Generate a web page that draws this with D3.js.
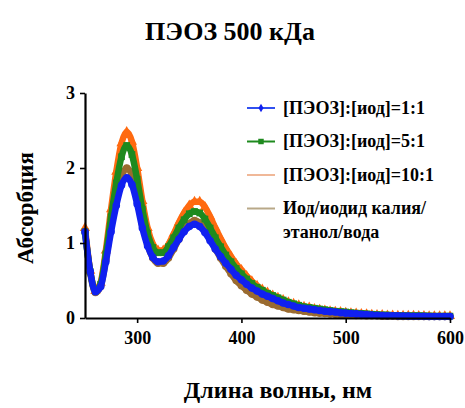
<!DOCTYPE html>
<html><head><meta charset="utf-8">
<script src="https://cdn.jsdelivr.net/npm/d3@7"></script>
<style>body{margin:0;background:#fff}svg{display:block}</style>
</head><body><svg id="c" width="465" height="408"></svg>
<script>
const wavelengths = d3.range(250, 601, 5);
const seriesNames = ["[ПЭОЗ]:[иод]=1:1","[ПЭОЗ]:[иод]=5:1","[ПЭОЗ]:[иод]=10:1","Иод/иодид калия/","этанол/вода"];
const blue = [1.15,0.62,0.35,0.42,0.75,1.15,1.5,1.77,1.87,1.78,1.52,
 1.2,0.96,0.81,0.75,0.76,0.83,0.94,1.05,1.15,1.22,1.25,1.22,1.14,1.03,0.92,0.82,0.73,0.65,0.57,0.51,
 0.45,0.4,0.36,0.32,0.29,0.26,0.23,0.2,0.18,0.16,0.14,0.13,0.12,0.11,0.1,0.09,0.085,0.08,0.07,0.065,
 0.06,0.055,0.05,0.045,0.04,0.035,0.033,0.03,0.03,0.028,0.026,0.025,0.024,0.023,0.022,0.021,0.02,0.02,0.02,0.02];
const green = [1.15,0.62,0.36,0.45,0.85,1.35,1.8,2.15,2.3,2.18,1.85,
 1.45,1.13,0.94,0.87,0.87,0.95,1.07,1.2,1.31,1.39,1.42,1.4,1.32,1.2,1.07,0.95,0.84,0.75,0.66,0.59,
 0.52,0.46,0.41,0.37,0.33,0.3,0.27,0.24,0.21,0.19,0.17,0.15,0.14,0.13,0.12,0.11,0.1,0.09,0.085,0.08,
 0.07,0.065,0.06,0.055,0.05,0.045,0.04,0.04,0.035,0.035,0.03,0.03,0.03,0.03,0.028,0.026,0.025,0.025,0.025,0.025];
const orange = [1.2,0.63,0.36,0.47,0.9,1.45,1.95,2.33,2.48,2.35,2.0,
 1.56,1.2,0.99,0.9,0.9,0.98,1.12,1.27,1.4,1.5,1.55,1.55,1.48,1.35,1.2,1.06,0.93,0.82,0.72,0.64,
 0.56,0.49,0.43,0.38,0.34,0.3,0.27,0.24,0.21,0.19,0.17,0.15,0.14,0.12,0.11,0.1,0.09,0.085,0.08,0.07,
 0.065,0.06,0.055,0.05,0.045,0.04,0.04,0.035,0.035,0.03,0.03,0.03,0.03,0.028,0.027,0.026,0.025,0.025,0.025,0.025];
const brown = [1.15,0.6,0.34,0.42,0.78,1.22,1.6,1.88,2.0,1.9,1.6,
 1.25,0.98,0.8,0.73,0.73,0.8,0.92,1.05,1.17,1.26,1.3,1.27,1.18,1.05,0.92,0.8,0.69,0.59,0.5,0.43,
 0.37,0.32,0.28,0.24,0.21,0.18,0.16,0.14,0.12,0.11,0.1,0.09,0.08,0.07,0.065,0.06,0.055,0.05,0.045,0.04,
 0.04,0.035,0.035,0.03,0.03,0.03,0.025,0.025,0.025,0.02,0.02,0.02,0.02,0.02,0.02,0.02,0.02,0.02,0.02,0.02];
const xTicks = [300,400,500,600];
const yTicks = [0,1,2,3];

const svg = d3.select("#c");
function txt(sel, size){
  return sel.attr("font-family","Liberation Serif").attr("font-weight","bold")
    .attr("font-size",size).attr("fill","#000");
}
const x = d3.scaleLinear().domain([250,600]).range([85,450]);
const y = d3.scaleLinear().domain([0,3]).range([318,93]);

const series = [
  {v: orange, c:"#ff6a10", m:"tri"},
  {v: brown,  c:"#9a6b30", m:"circle"},
  {v: green,  c:"#1e8a1e", m:"square"},
  {v: blue,   c:"#1020f0", m:"circle"}
];
const line = d3.line().x((d,i)=>x(wavelengths[i])).y(d=>y(d)).curve(d3.curveMonotoneX);
const sym = {tri:d3.symbolTriangle, circle:d3.symbolCircle, square:d3.symbolSquare};
series.forEach(s=>{
  svg.append("path").attr("d", line(s.v)).attr("fill","none").attr("stroke", s.c).attr("stroke-width",6.5);
  svg.append("g").selectAll("path").data(s.v).join("path")
    .attr("transform",(d,i)=>`translate(${x(wavelengths[i])},${y(d)})`)
    .attr("d", d3.symbol().type(sym[s.m]).size(45)).attr("fill", s.c);
});

// axes
const xa = svg.append("g").attr("transform","translate(0,318)")
  .call(d3.axisBottom(x).tickValues(xTicks).tickFormat(d3.format("d")).tickSize(5).tickPadding(8).tickSizeOuter(0));
const ya = svg.append("g").attr("transform","translate(85,0)")
  .call(d3.axisLeft(y).tickValues(yTicks).tickFormat(d3.format("d")).tickSize(5).tickPadding(5).tickSizeOuter(0));
[xa,ya].forEach(a=>{
  a.attr("font-family","Liberation Serif").attr("font-size",18);
  a.select(".domain").attr("stroke","#000").attr("stroke-width",2.2);
  a.selectAll(".tick line").attr("stroke","#000").attr("stroke-width",1.6);
  txt(a.selectAll("text"), 18);
});

// title + labels
txt(svg.append("text").attr("x",230).attr("y",40).attr("text-anchor","middle"), 26).text("ПЭОЗ 500 кДа");
txt(svg.append("text").attr("transform","translate(33,208) rotate(-90)").attr("text-anchor","middle"), 23).text("Абсорбция");
txt(svg.append("text").attr("x",278).attr("y",398).attr("text-anchor","middle"), 24).text("Длина волны, нм");

// legend
const leg = [
  {c:"#3050f0", m:"diamond", t:seriesNames[0], y:108},
  {c:"#1e8a1e", m:"square", t:seriesNames[1], y:141.5},
  {c:"#f0b898", m:null, t:seriesNames[2], y:175},
  {c:"#b8a888", m:null, t:seriesNames[3], y:208.5}
];
leg.forEach(l=>{
  svg.append("line").attr("x1",247).attr("x2",275).attr("y1",l.y).attr("y2",l.y).attr("stroke",l.c).attr("stroke-width",2);
  if(l.m==="diamond") svg.append("path").attr("transform",`translate(261,${l.y})`).attr("d",d3.symbol().type(d3.symbolDiamond).size(22)).attr("fill","#1020f0");
  if(l.m==="square") svg.append("path").attr("transform",`translate(261,${l.y})`).attr("d",d3.symbol().type(d3.symbolSquare).size(30)).attr("fill","#1e8a1e");
  txt(svg.append("text").attr("x",283).attr("y",l.y+5.5), 18).text(l.t);
});
txt(svg.append("text").attr("x",283).attr("y",238), 18).text(seriesNames[4]);
</script></body></html>
